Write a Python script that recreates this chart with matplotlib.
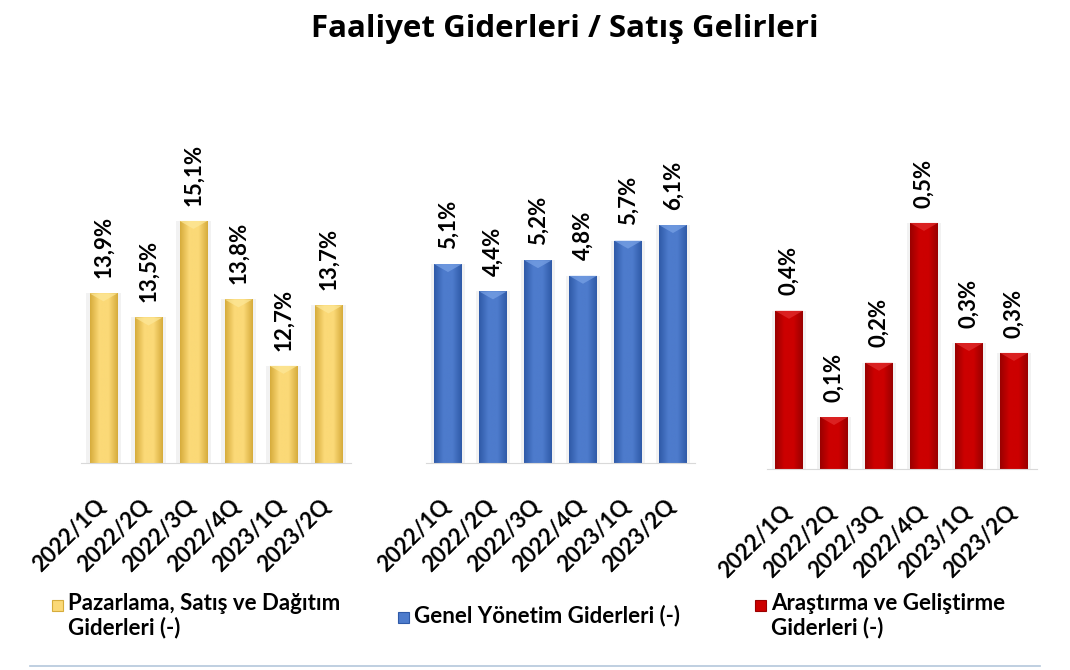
import matplotlib
matplotlib.use("Agg")
import matplotlib.pyplot as plt
import numpy as np
from matplotlib.colors import LinearSegmentedColormap
from matplotlib.patches import Rectangle, Polygon
from matplotlib.transforms import ScaledTranslation

plt.rcParams['font.family'] = ['Lato', 'DejaVu Sans']

quarters = ['2022/1Q', '2022/2Q', '2022/3Q', '2022/4Q', '2023/1Q', '2023/2Q']

pazarlama = [13.9, 13.5, 15.1, 13.8, 12.7, 13.7]
pazarlama_lbl = ['13,9%', '13,5%', '15,1%', '13,8%', '12,7%', '13,7%']

genel = [5.1, 4.4, 5.2, 4.8, 5.7, 6.1]
genel_lbl = ['5,1%', '4,4%', '5,2%', '4,8%', '5,7%', '6,1%']

arge = [0.353, 0.116, 0.237, 0.549, 0.281, 0.259]
arge_lbl = ['0,4%', '0,1%', '0,2%', '0,5%', '0,3%', '0,3%']

series_names = ['Pazarlama, Satış ve Dağıtım\nGiderleri (-)',
                'Genel Yönetim Giderleri (-)',
                'Araştırma ve Geliştirme\nGiderleri (-)']

# (edge, centre, bevel) colours
palettes = [('#d6ac3c', '#fbd977', '#fde89a'),
            ('#2f5aa8', '#4d7bcc', '#7aa3e6'),
            ('#9a0000', '#cc0000', '#e23030')]

W, H = 1070, 670
fig = plt.figure(figsize=(W / 100, H / 100), dpi=100)

# panel boxes in pixels: left, baseline y, top y
boxes = [(81, 463, 140), (425.5, 463, 140), (766.5, 469, 140)]
ylims = [(11.09, 16.44), (0, 8.28), (0, 0.734)]
data = [pazarlama, genel, arge]
labels = [pazarlama_lbl, genel_lbl, arge_lbl]

fig.text(565 / W, 1 - 29 / H, 'Faaliyet Giderleri / Satış Gelirleri',
         ha='center', va='center', fontsize=22.5, fontweight='bold',
         family=['Open Sans', 'DejaVu Sans'])

x = np.arange(len(quarters))
for i in range(3):
    left, base, top = boxes[i]
    ax = fig.add_axes([left / W, 1 - base / H, 270 / W, (base - top) / H])
    edge, mid, bev = palettes[i]
    cmap = LinearSegmentedColormap.from_list('g', [edge, mid, mid, edge])
    ymin, ymax = ylims[i]
    bars = ax.bar(x, np.array(data[i]) - ymin, bottom=ymin, width=0.62,
                  color=mid, zorder=2)
    grad = np.linspace(0, 1, 64).reshape(1, -1)
    d = 8 * (ymax - ymin) / (base - top)
    for b in bars:
        x0, y0 = b.get_x(), b.get_y()
        x1, y1 = x0 + b.get_width(), y0 + b.get_height()
        # soft shadow
        ax.bar(b.get_x() + b.get_width() / 2, b.get_height(), bottom=y0,
               width=b.get_width() * 1.25, color='#000000', alpha=0.05,
               zorder=1)
        im = ax.imshow(grad, cmap=cmap, extent=[x0, x1, y0, y1],
                       aspect='auto', zorder=3)
        im.set_clip_path(b)
        ax.add_patch(Polygon([(x0, y1), (x1, y1), ((x0 + x1) / 2, y1 - d)],
                             closed=True, color=bev, alpha=0.7, lw=0, zorder=4))
    for xi, v, t in zip(x, data[i], labels[i]):
        ax.annotate(t, (xi, v), xytext=(0, 11), textcoords='offset points',
                    rotation=90, ha='center', va='bottom', fontsize=16,
                    fontweight='bold')
    ax.set_xlim(-0.5, 5.5)
    ax.set_ylim(ymin, ymax)
    for s in ['top', 'right', 'left']:
        ax.spines[s].set_visible(False)
    ax.spines['bottom'].set_color('#d9d9d9')
    ax.spines['bottom'].set_zorder(5)
    ax.set_yticks([])
    ax.set_xticks(x)
    ax.set_xticklabels(quarters, rotation=45, ha='right', va='top',
                       fontsize=16, fontweight='bold')
    ax.tick_params(axis='x', length=0, pad=23)
    off = ScaledTranslation(6 / 100, 0, fig.dpi_scale_trans)
    for lab in ax.get_xticklabels():
        lab.set_transform(lab.get_transform() + off)
    ax.patch.set_visible(False)

# legends (marker + text under each panel)
leg_pos = [(52, 605), (398, 617), (755, 605)]
for i in range(3):
    mx, my = leg_pos[i]
    edge, mid, bev = palettes[i]
    fig.add_artist(Rectangle((mx / W, 1 - (my + 6) / H), 11 / W, 11 / H,
                             transform=fig.transFigure, facecolor=mid,
                             edgecolor=edge, lw=0.8))
    fig.text((mx + 16) / W, 1 - (my - 12) / H, series_names[i], ha='left',
             va='top', fontsize=16, fontweight='bold', linespacing=1.15)

fig.add_artist(plt.Line2D([30 / W, 1040 / W], [1 - 666 / H, 1 - 666 / H],
                          transform=fig.transFigure, color='#b4c7dc', lw=1.2))

fig.savefig('out.png', dpi=100)
